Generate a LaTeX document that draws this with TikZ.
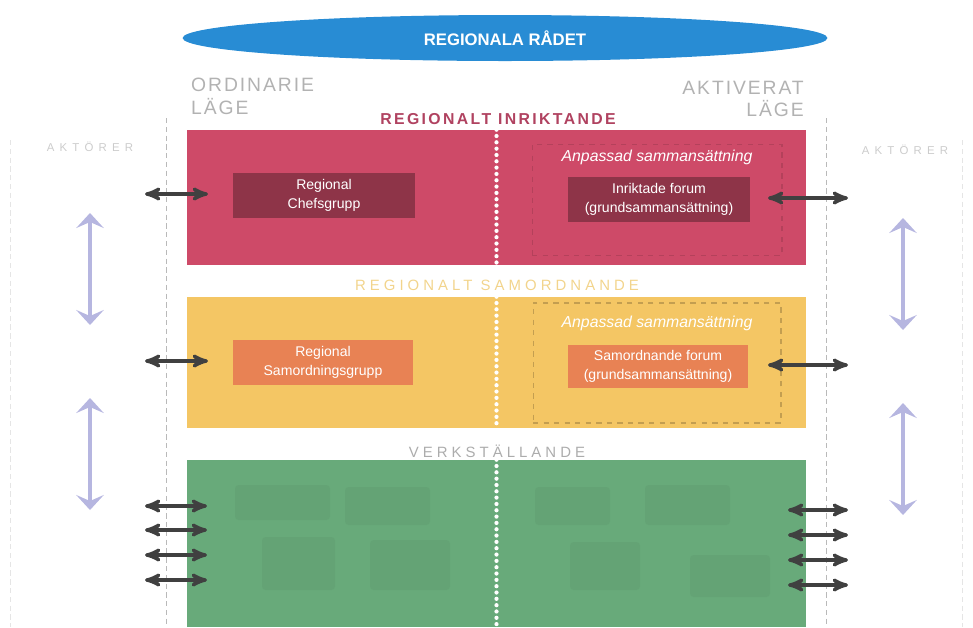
\documentclass[tikz,border=0pt]{standalone}
\usepackage{fontspec}
\setmainfont{Liberation Sans}
\newfontfamily\lagefont[LetterSpace=10]{Liberation Sans}
\newfontfamily\nivafont[LetterSpace=15]{Liberation Sans}
\newfontfamily\glesfont[LetterSpace=27]{Liberation Sans}
\newfontfamily\aktorfont[LetterSpace=45]{Liberation Sans}
\usepackage{xcolor}
\usepackage{tikz}
\usetikzlibrary{
  arrows,
  arrows.meta,
  positioning,
  shapes.geometric}
\definecolor{radblue}{RGB}{40,140,212}
\definecolor{inrred}{RGB}{206,74,104}
\definecolor{inrdark}{RGB}{142,52,72}
\definecolor{inrhead}{RGB}{176,66,96}
\definecolor{samyellow}{RGB}{244,198,100}
\definecolor{samorange}{RGB}{232,130,84}
\definecolor{samhead}{RGB}{242,212,140}
\definecolor{vgreen}{RGB}{104,170,122}
\definecolor{lavender}{RGB}{182,182,224}
\tikzset{panel/.style={rectangle, inner sep=0pt, minimum width=12.38cm},
         innerbox/.style={rectangle, inner sep=0pt, minimum width=3.64cm, minimum height=0.9cm,
                          text=white, align=center, font=\fontsize{8}{10.5}\selectfont},
         anpassad/.style={rectangle, dashed, line width=0.6pt, inner sep=0pt},
         link/.style={<->, >=stealth', line width=1.9pt, black!75},
         flow/.style={{Stealth[length=3mm,width=5.5mm,inset=1.2mm]}-{Stealth[length=3mm,width=5.5mm,inset=1.2mm]},
                      line width=1.8pt, lavender},
         guide/.style={densely dashed, gray!55, line width=0.4pt},
         divider/.style={white, line width=2.4pt, line cap=round, dash pattern=on 0pt off 3.6pt}
        }

\begin{document}
\begin{tikzpicture}[x=0.02cm, y=-0.02cm]
\useasboundingbox (0,0) rectangle (973,627);
\node[ellipse, fill=radblue, minimum width=12.9cm, minimum height=0.92cm, text=white,
      font=\bfseries\fontsize{9.5}{11}\selectfont] (radet) at (505,38) {REGIONALA RÅDET};
\node[anchor=west, align=left, text=gray!60, font=\lagefont\fontsize{11}{13}\selectfont] (ordinarie) at (185,96) {ORDINARIE\\LÄGE};
\node[anchor=east, align=right, text=gray!60, font=\lagefont\fontsize{11}{13}\selectfont] (aktiverat) at (810,99) {AKTIVERAT\\LÄGE};
\node[text=gray!40, font=\aktorfont\fontsize{6.5}{8}\selectfont] (aktorL) at (90,147) {AKTÖRER};
\node[text=gray!40, font=\aktorfont\fontsize{6.5}{8}\selectfont] (aktorR) at (905,150) {AKTÖRER};
\draw[guide] (166,118) -- (166,627);
\draw[guide] (826,118) -- (826,627);
\draw[guide, gray!20] (10,140) -- (10,627);
\draw[guide, gray!20] (962,140) -- (962,627);
\node[text=inrhead, font=\nivafont\bfseries\fontsize{9}{11}\selectfont] (inrhead) at (498,119) {REGIONALT INRIKTANDE};
\node[panel, fill=inrred, minimum height=2.7cm] (inr) at (496.5,197.5) {};
\node[anpassad, draw=inrdark!40!inrred, minimum width=5cm, minimum height=2.22cm] (anpInr) at (657,200) {};
\node[text=white, font=\itshape\fontsize{9}{11}\selectfont] (anpInrText) at (657,157) {Anpassad sammansättning};
\node[innerbox, fill=inrdark] (chef) at (324,195.5) {Regional\\Chefsgrupp};
\node[innerbox, fill=inrdark] (inrforum) at (659,199.5) {Inriktade forum\\(grundsammansättning)};
\node[text=samhead, font=\glesfont\fontsize{8.5}{10}\selectfont] (samhead) at (497,285) {REGIONALT SAMORDNANDE};
\node[panel, fill=samyellow, minimum height=2.62cm] (sam) at (496.5,362.5) {};
\node[anpassad, draw=samyellow!80!black, minimum width=4.96cm, minimum height=2.4cm] (anpSam) at (657,363) {};
\node[text=white, font=\itshape\fontsize{9}{11}\selectfont] (anpSamText) at (657,323) {Anpassad sammansättning};
\node[innerbox, fill=samorange, minimum width=3.6cm] (samgrupp) at (323,362.5) {Regional\\Samordningsgrupp};
\node[innerbox, fill=samorange, minimum width=3.6cm, minimum height=0.86cm] (samforum) at (658,366.5) {Samordnande forum\\(grundsammansättning)};
\node[text=gray!65, font=\glesfont\fontsize{8.5}{10}\selectfont] (verkhead) at (497,451) {VERKSTÄLLANDE};
\node[panel, fill=vgreen, minimum height=3.34cm] (verk) at (496.5,543.5) {};
\fill[vgreen!80!black, opacity=0.18, rounded corners=2pt] (235,485) rectangle (330,520);
\fill[vgreen!80!black, opacity=0.18, rounded corners=2pt] (345,487) rectangle (430,525);
\fill[vgreen!80!black, opacity=0.18, rounded corners=2pt] (262,537) rectangle (335,590);
\fill[vgreen!80!black, opacity=0.18, rounded corners=2pt] (370,540) rectangle (450,590);
\fill[vgreen!80!black, opacity=0.18, rounded corners=2pt] (535,487) rectangle (610,525);
\fill[vgreen!80!black, opacity=0.18, rounded corners=2pt] (645,485) rectangle (730,525);
\fill[vgreen!80!black, opacity=0.18, rounded corners=2pt] (570,542) rectangle (640,590);
\fill[vgreen!80!black, opacity=0.18, rounded corners=2pt] (690,555) rectangle (770,597);
\draw[divider] (inr.north) -- (inr.south);
\draw[divider] (sam.north) -- (sam.south);
\draw[divider] (verk.north) -- (verk.south);
\coordinate (inrL1) at (145,194); \coordinate (inrL2) at (208,194);
\coordinate (inrR1) at (768,198); \coordinate (inrR2) at (848,198);
\coordinate (samL1) at (145,361); \coordinate (samL2) at (208,361);
\coordinate (samR1) at (768,365); \coordinate (samR2) at (848,365);
\draw[link] (inrL1) -- (inrL2);
\draw[link] (inrR1) -- (inrR2);
\draw[link] (samL1) -- (samL2);
\draw[link] (samR1) -- (samR2);
\coordinate (verkL1) at (145,506); \coordinate (verkL1e) at (207,506);
\coordinate (verkL2) at (145,530); \coordinate (verkL2e) at (207,530);
\coordinate (verkL3) at (145,555); \coordinate (verkL3e) at (207,555);
\coordinate (verkL4) at (145,580); \coordinate (verkL4e) at (207,580);
\coordinate (verkR1) at (788,510); \coordinate (verkR1e) at (848,510);
\coordinate (verkR2) at (788,535); \coordinate (verkR2e) at (848,535);
\coordinate (verkR3) at (788,560); \coordinate (verkR3e) at (848,560);
\coordinate (verkR4) at (788,585); \coordinate (verkR4e) at (848,585);
\draw[link] (verkL1) -- (verkL1e);
\draw[link] (verkL2) -- (verkL2e);
\draw[link] (verkL3) -- (verkL3e);
\draw[link] (verkL4) -- (verkL4e);
\draw[link] (verkR1) -- (verkR1e);
\draw[link] (verkR2) -- (verkR2e);
\draw[link] (verkR3) -- (verkR3e);
\draw[link] (verkR4) -- (verkR4e);
\coordinate (flowL1) at (90,213); \coordinate (flowL1e) at (90,325);
\coordinate (flowL2) at (90,398); \coordinate (flowL2e) at (90,510);
\coordinate (flowR1) at (903,218); \coordinate (flowR1e) at (903,330);
\coordinate (flowR2) at (903,403); \coordinate (flowR2e) at (903,515);
\draw[flow] (flowL1) -- (flowL1e);
\draw[flow] (flowL2) -- (flowL2e);
\draw[flow] (flowR1) -- (flowR1e);
\draw[flow] (flowR2) -- (flowR2e);
\end{tikzpicture}
\end{document}
